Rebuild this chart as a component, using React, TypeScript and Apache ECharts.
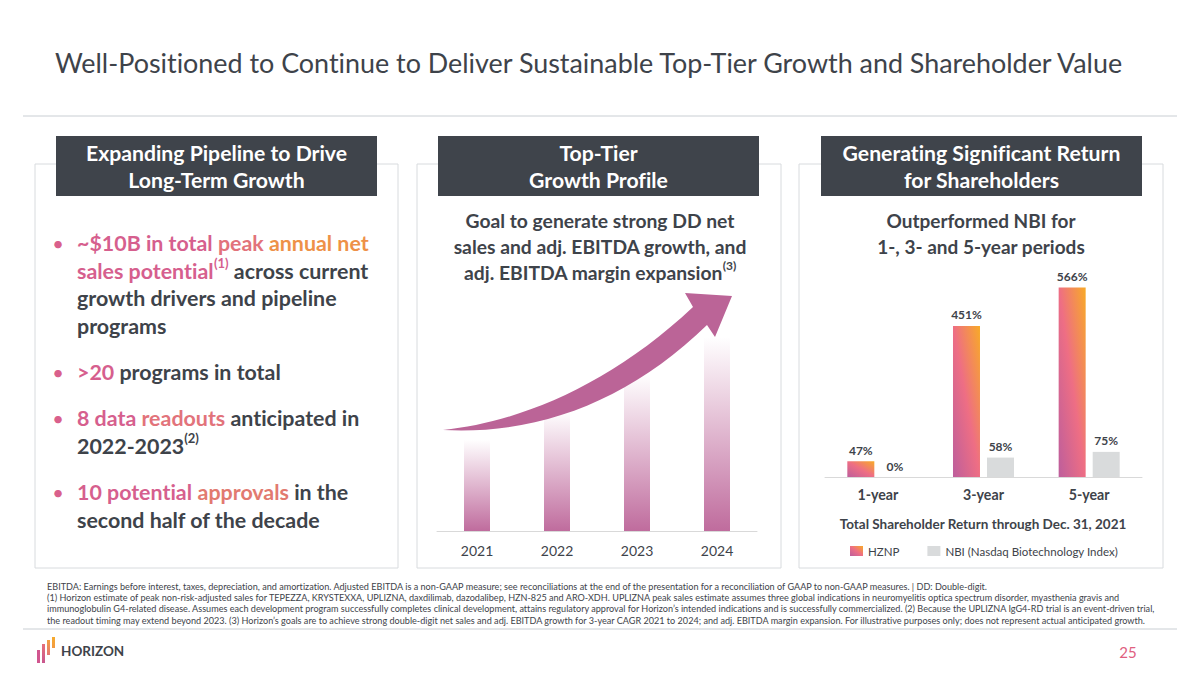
import React, { useEffect, useRef } from 'react';
import * as echarts from 'echarts';

const TITLE = 'Well-Positioned to Continue to Deliver Sustainable Top-Tier Growth and Shareholder Value';
const panelHeaders = [
  ['Expanding Pipeline to Drive', 'Long-Term Growth'],
  ['Top-Tier', 'Growth Profile'],
  ['Generating Significant Return', 'for Shareholders'],
];
const yearCategories = ['2021', '2022', '2023', '2024'];
const growthIllustration = [47, 62, 81, 100];
const periodCategories = ['1-year', '3-year', '5-year'];
const hznpReturn = [47, 451, 566];
const nbiReturn = [0, 58, 75];
const seriesNames = ['HZNP', 'NBI (Nasdaq Biotechnology Index)'];
const middleSubtitle = ['Goal to generate strong DD net', 'sales and adj. EBITDA growth, and', 'adj. EBITDA margin expansion'];
const rightSubtitle = ['Outperformed NBI for', '1-, 3- and 5-year periods'];
const returnCaption = 'Total Shareholder Return through Dec. 31, 2021';
const footnotes = [
  'EBITDA: Earnings before interest, taxes, depreciation, and amortization. Adjusted EBITDA is a non-GAAP measure; see reconciliations at the end of the presentation for a reconciliation of GAAP to non-GAAP measures. | DD: Double-digit.',
  '(1) Horizon estimate of peak non-risk-adjusted sales for TEPEZZA, KRYSTEXXA, UPLIZNA, daxdilimab, dazodalibep, HZN-825 and ARO-XDH. UPLIZNA peak sales estimate assumes three global indications in neuromyelitis optica spectrum disorder, myasthenia gravis and',
  'immunoglobulin G4-related disease. Assumes each development program successfully completes clinical development, attains regulatory approval for Horizon\u2019s intended indications and is successfully commercialized. (2) Because the UPLIZNA IgG4-RD trial is an event-driven trial,',
  'the readout timing may extend beyond 2023. (3) Horizon\u2019s goals are to achieve strong double-digit net sales and adj. EBITDA growth for 3-year CAGR 2021 to 2024; and adj. EBITDA margin expansion. For illustrative purposes only; does not represent actual anticipated growth.',
];

const F = 'Lato, "Open Sans", sans-serif';
const DARK = '#3e434a';
const PINK = '#d9608c';

const ARROW_D =
  'M443 430 C520 422 610 385 693 307 L685 293 L732 296 L715 337 L707 325 C630 400 540 435 443 430 Z';

let registered = false;
function registerShapes() {
  if (registered) return;
  echarts.graphic.registerShape('growthArrow', echarts.graphic.extendPath(ARROW_D, {}) as any);
  registered = true;
}

export default function App() {
  const ref = useRef<HTMLDivElement>(null);
  useEffect(() => {
    if (!ref.current) return;
    registerShapes();
    const chart = echarts.init(ref.current, undefined, { renderer: 'svg' });

    const panelRects = [
      [35, 164, 363, 404],
      [417, 164, 364, 404],
      [799, 164, 364, 404],
    ];
    const headerRects = [
      [56, 136, 321, 60],
      [438, 136, 321, 60],
      [821, 136, 321, 60],
    ];

    const graphics: any[] = [];
    // title and separators
    graphics.push({
      type: 'text', x: 55, y: 62,
      style: { text: TITLE, fontFamily: F, fontSize: 26.9, fill: DARK, align: 'left', verticalAlign: 'middle' },
    });
    graphics.push({ type: 'line', shape: { x1: 23, y1: 116, x2: 1177, y2: 116 }, style: { stroke: '#c9ced3', lineWidth: 1 } });
    graphics.push({ type: 'line', shape: { x1: 23, y1: 629, x2: 1177, y2: 629 }, style: { stroke: '#c9ced3', lineWidth: 1 } });

    panelRects.forEach((r) => {
      graphics.push({
        type: 'rect', shape: { x: r[0], y: r[1], width: r[2], height: r[3] }, z: -1,
        style: { fill: '#ffffff', stroke: '#d8dbde', lineWidth: 1 },
      });
    });
    headerRects.forEach((r, i) => {
      graphics.push({ type: 'rect', shape: { x: r[0], y: r[1], width: r[2], height: r[3] }, style: { fill: '#3f444b' } });
      graphics.push({
        type: 'text', x: r[0] + r[2] / 2, y: 153,
        style: { text: panelHeaders[i][0], fontFamily: F, fontWeight: 'bold', fontSize: 21.2, fill: '#ffffff', align: 'center', verticalAlign: 'middle' },
      });
      graphics.push({
        type: 'text', x: r[0] + r[2] / 2, y: 180,
        style: { text: panelHeaders[i][1], fontFamily: F, fontWeight: 'bold', fontSize: 21.2, fill: '#ffffff', align: 'center', verticalAlign: 'middle' },
      });
    });

    // left panel bullets
    const LH = 27.6;
    const BF = 21.4;
    const rich: any = {
      p1: { fontFamily: F, fontWeight: 'bold', fontSize: BF, fill: '#d65f8e', lineHeight: LH },
      p2: { fontFamily: F, fontWeight: 'bold', fontSize: BF, fill: '#e2737b', lineHeight: LH },
      p3: { fontFamily: F, fontWeight: 'bold', fontSize: BF, fill: '#ee9148', lineHeight: LH },
      p4: { fontFamily: F, fontWeight: 'bold', fontSize: BF, fill: '#e27a70', lineHeight: LH },
      d: { fontFamily: F, fontWeight: 'bold', fontSize: BF, fill: DARK, lineHeight: LH },
      sp: { fontFamily: F, fontWeight: 'bold', fontSize: 13, fill: '#d65f8e', lineHeight: 18, verticalAlign: 'top' },
      sd: { fontFamily: F, fontWeight: 'bold', fontSize: 13, fill: DARK, lineHeight: 18, verticalAlign: 'top' },
    };
    const bullets = [
      { y: 243, text: '{p1|~$10B in total }{p2|peak }{p3|annual net}\n{p1|sales potential}{sp|(1)}{d| across current}\n{d|growth drivers and pipeline}\n{d|programs}' },
      { y: 372, text: '{p1|>20}{d| programs in total}' },
      { y: 418, text: '{p1|8 data }{p2|readouts}{d| anticipated in}\n{d|2022-2023}{sd|(2)}' },
      { y: 492, text: '{p1|10 potential }{p4|approvals}{d| in the}\n{d|second half of the decade}' },
    ];
    bullets.forEach((b) => {
      graphics.push({
        type: 'text', x: 58, y: b.y,
        style: { text: '\u2022', fontFamily: F, fontSize: 20, fill: PINK, align: 'center', verticalAlign: 'middle' },
      });
      graphics.push({
        type: 'text', x: 77, y: b.y - LH / 2,
        style: { text: b.text, rich, align: 'left', verticalAlign: 'top' },
      });
    });

    // middle subtitle
    middleSubtitle.forEach((t, i) => {
      graphics.push({
        type: 'text', x: 600, y: 220 + i * 26,
        style: {
          text: i === 2 ? '{m|' + t + '}{s|(3)}' : '{m|' + t + '}',
          rich: {
            m: { fontFamily: F, fontWeight: 'bold', fontSize: 19.3, fill: DARK, lineHeight: 26 },
            s: { fontFamily: F, fontWeight: 'bold', fontSize: 12, fill: DARK, lineHeight: 16, verticalAlign: 'top' },
          },
          align: 'center', verticalAlign: 'middle',
        },
      });
    });
    // growth arrow
    graphics.push({ type: 'growthArrow', x: 0, y: 0, z: 10, style: { fill: '#bb6497' } });

    // right subtitle & caption
    rightSubtitle.forEach((t, i) => {
      graphics.push({
        type: 'text', x: 981, y: 220 + i * 26,
        style: { text: t, fontFamily: F, fontWeight: 'bold', fontSize: 19, fill: DARK, align: 'center', verticalAlign: 'middle' },
      });
    });
    graphics.push({
      type: 'text', x: 983, y: 524,
      style: { text: returnCaption, fontFamily: F, fontWeight: 'bold', fontSize: 13.5, fill: DARK, align: 'center', verticalAlign: 'middle' },
    });

    // footnotes
    footnotes.forEach((t, i) => {
      graphics.push({
        type: 'text', x: 47, y: 586 + i * 11.4,
        style: { text: t, fontFamily: F, fontSize: 9.1, fill: DARK, align: 'left', verticalAlign: 'middle' },
      });
    });

    // logo
    const logoBars = [
      [37, 650, 3, 13, '#d1568f', '#d1568f'],
      [42, 644, 3, 19, '#e5707a', '#c9578f'],
      [47, 640, 3, 15, '#f2a040', '#e57676'],
      [52, 637, 3, 11, '#f6ab2c', '#f29a45'],
    ];
    logoBars.forEach((b: any) => {
      graphics.push({
        type: 'rect', shape: { x: b[0], y: b[1], width: b[2], height: b[3] },
        style: { fill: new echarts.graphic.LinearGradient(0, 0, 0, 1, [{ offset: 0, color: b[4] }, { offset: 1, color: b[5] }]) },
      });
    });
    graphics.push({
      type: 'text', x: 61, y: 651,
      style: { text: 'HORIZON', fontFamily: F, fontWeight: 'bold', fontSize: 13.5, fill: DARK, align: 'left', verticalAlign: 'middle' },
    });
    graphics.push({
      type: 'text', x: 1128, y: 652,
      style: { text: '25', fontFamily: F, fontSize: 15, fill: '#e0607f', align: 'center', verticalAlign: 'middle' },
    });

    const hznpGradient = new echarts.graphic.LinearGradient(0, 1, 1, 0, [
      { offset: 0, color: '#bd5e9c' },
      { offset: 0.5, color: '#ee6e84' },
      { offset: 1, color: '#f8aa27' },
    ]);
    const labelStyle = {
      show: true, position: 'top', distance: 5, formatter: '{c}%',
      fontFamily: F, fontSize: 12, fontWeight: 'bold', color: DARK,
    };

    chart.setOption({
      animation: false,
      backgroundColor: '#ffffff',
      textStyle: { fontFamily: F },
      graphic: { elements: graphics },
      legend: {
        data: seriesNames,
        left: 850, top: 545, itemWidth: 13, itemHeight: 10, itemGap: 28, padding: 0,
        icon: 'rect',
        textStyle: { fontFamily: F, fontSize: 11.5, color: DARK },
        selectedMode: false,
      },
      grid: [
        { left: 437, width: 320, top: 337, height: 194 },
        { left: 825, width: 317, top: 276, height: 201 },
      ],
      xAxis: [
        {
          gridIndex: 0, type: 'category', data: yearCategories,
          axisLine: { lineStyle: { color: '#d9d9d9' } }, axisTick: { show: false },
          axisLabel: { fontFamily: F, fontSize: 14, color: DARK, margin: 12 },
        },
        {
          gridIndex: 1, type: 'category', data: periodCategories,
          axisLine: { lineStyle: { color: '#d9d9d9' } }, axisTick: { show: false },
          axisLabel: { fontFamily: F, fontSize: 14.2, fontWeight: 'bold', color: DARK, margin: 10 },
        },
      ],
      yAxis: [
        { gridIndex: 0, type: 'value', min: 0, max: 100, show: false },
        { gridIndex: 1, type: 'value', min: 0, max: 600, show: false },
      ],
      series: [
        {
          type: 'bar', name: 'Growth', xAxisIndex: 0, yAxisIndex: 0, data: growthIllustration, barWidth: 26, silent: true,
          itemStyle: {
            color: new echarts.graphic.LinearGradient(0, 0, 0, 1, [
              { offset: 0, color: 'rgba(190,102,155,0)' },
              { offset: 1, color: 'rgba(188,100,152,0.95)' },
            ]),
          },
        },
        {
          type: 'bar', name: seriesNames[0], xAxisIndex: 1, yAxisIndex: 1, data: hznpReturn, barWidth: 27, barGap: '26%',
          itemStyle: { color: hznpGradient }, label: labelStyle,
        },
        {
          type: 'bar', name: seriesNames[1], xAxisIndex: 1, yAxisIndex: 1, data: nbiReturn, barWidth: 27, barGap: '26%',
          itemStyle: { color: '#d9dbdc' }, label: labelStyle,
        },
      ],
    });
    return () => chart.dispose();
  }, []);

  return (
    <div
      ref={ref}
      style={{
        position: 'fixed', left: 0, top: 0, width: 1200, height: 675, background: '#fff',
        fontVariantLigatures: 'none',
      }}
    />
  );
}
